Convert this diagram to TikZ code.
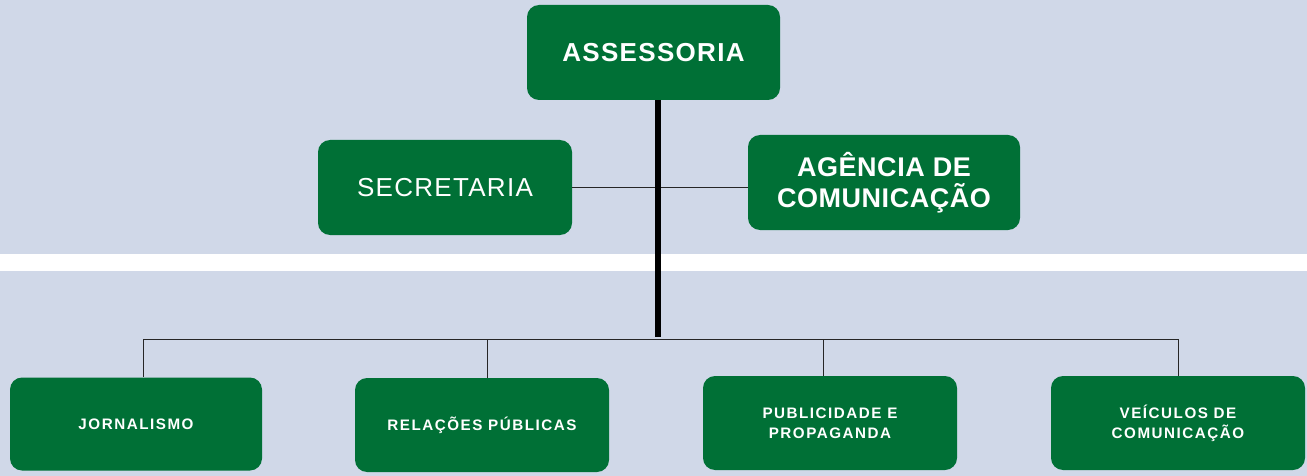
\documentclass[tikz,border=0pt]{standalone}
\usepackage{fontspec}
\setmainfont{Liberation Sans}
\newfontfamily\bigboxfont[LetterSpace=5]{Liberation Sans}
\newfontfamily\midboxfont[LetterSpace=2]{Liberation Sans}
\newfontfamily\smallboxfont[LetterSpace=10]{Liberation Sans}
\definecolor{boxgreen}{RGB}{0,112,54}
\definecolor{backblue}{RGB}{208,216,232}

\begin{document}
\begin{tikzpicture}[x=1pt,y=-1pt,
    box/.style={shape=rectangle,rounded corners=12pt,fill=boxgreen,text=white,align=center,inner sep=0pt},
    topbox/.style={box,font=\bigboxfont\bfseries\fontsize{26}{30}\selectfont},
    midbox/.style={box,font=\midboxfont\bfseries\fontsize{27}{31}\selectfont},
    lowbox/.style={box,minimum width=254,minimum height=94,font=\smallboxfont\bfseries\fontsize{15.2}{20}\selectfont},
    thin/.style={draw=black!85,line width=1pt},
    trunk/.style={draw=black,line width=6pt}]
    \useasboundingbox (0,0) rectangle (1307,476);
    \fill[backblue] (0,0) rectangle (1307,476);
    \fill[white] (0,254) rectangle (1307,270.5);

    \node[topbox,minimum width=253,minimum height=95] (ASS) at (653.5,52.5) {ASSESSORIA};
    \node[topbox,font=\bigboxfont\fontsize{26}{30}\selectfont,minimum width=254,minimum height=95] (SEC) at (445,187.5) {SECRETARIA};
    \node[midbox,minimum width=272,minimum height=95] (AGE) at (884,182.5) {AG\^ENCIA DE\\ COMUNICA\c{C}\~AO};

    \node[lowbox,minimum width=252,minimum height=93] (JOR) at (136,424) {JORNALISMO};
    \node[lowbox] (REL) at (482,425) {RELA\c{C}\~OES P\'UBLICAS};
    \node[lowbox] (PUB) at (830,423) {PUBLICIDADE E\\ PROPAGANDA};
    \node[lowbox] (VEI) at (1178,423) {VE\'ICULOS DE\\ COMUNICA\c{C}\~AO};

    % bus points
    \coordinate (T0) at (658,100);
    \coordinate (T1) at (658,337);
    \coordinate (B1) at (143,339);
    \coordinate (B2) at (487,339);
    \coordinate (B3) at (823,339);
    \coordinate (B4) at (1178,339);

    \draw[thin] (SEC) -- (AGE.west |- SEC);
    \draw[thin] (B1) -- (B4);
    \draw[thin] (B1) -- (B1 |- JOR.north);
    \draw[thin] (B2) -- (B2 |- REL.north);
    \draw[thin] (B3) -- (B3 |- PUB.north);
    \draw[thin] (B4) -- (VEI.north);
    \draw[trunk] (T0) -- (T1);
\end{tikzpicture}
\end{document}
